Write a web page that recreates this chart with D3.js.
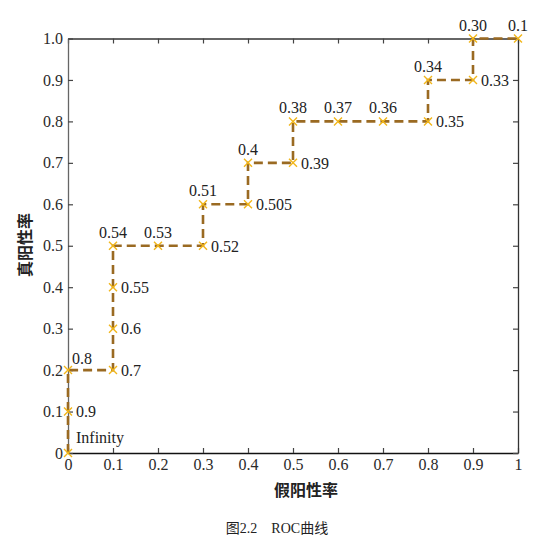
<!DOCTYPE html>
<html>
<head>
	<meta charset="utf-8">
	<title>ROC curve</title>
	<script src="https://cdn.jsdelivr.net/npm/d3@7/dist/d3.min.js"></script>
	<style>
		body { margin: 0; background: #fff; }
		.tick text { font-family: "Liberation Serif", "DejaVu Serif", serif; font-size: 16px; fill: #2a2a2a; }
		.pt-label { font-family: "Liberation Serif", "DejaVu Serif", serif; font-size: 16px; fill: #222; }
		.cjk { font-family: "Noto Sans CJK SC", sans-serif; }
		.caption { font-family: "Liberation Serif", "Noto Sans CJK SC", serif; }
	</style>
</head>
<body>
	<svg id="chart" width="548" height="546"></svg>

	<script>
		// false positive rate, true positive rate, threshold label
		var fpr = [0, 0, 0, 0.1, 0.1, 0.1, 0.1, 0.2, 0.3, 0.3, 0.4, 0.4, 0.5, 0.5, 0.6, 0.7, 0.8, 0.8, 0.9, 0.9, 1.0];
		var tpr = [0, 0.1, 0.2, 0.2, 0.3, 0.4, 0.5, 0.5, 0.5, 0.6, 0.6, 0.7, 0.7, 0.8, 0.8, 0.8, 0.8, 0.9, 0.9, 1.0, 1.0];
		var thresholds = ['Infinity', '0.9', '0.8', '0.7', '0.6', '0.55', '0.54', '0.53', '0.52', '0.51', '0.505',
			'0.4', '0.39', '0.38', '0.37', '0.36', '0.35', '0.34', '0.33', '0.30', '0.1'];

		var xTicks = [0, 0.1, 0.2, 0.3, 0.4, 0.5, 0.6, 0.7, 0.8, 0.9, 1];
		var xTickLabels = ['0', '0.1', '0.2', '0.3', '0.4', '0.5', '0.6', '0.7', '0.8', '0.9', '1'];
		var yTicks = [0, 0.1, 0.2, 0.3, 0.4, 0.5, 0.6, 0.7, 0.8, 0.9, 1];
		var yTickLabels = ['0', '0.1', '0.2', '0.3', '0.4', '0.5', '0.6', '0.7', '0.8', '0.9', '1.0'];

		var xTitle = '假阳性率', yTitle = '真阳性率', caption = '图2.2\u3000ROC曲线';

		var svg = d3.select('#chart');
		var plot = { left: 68, right: 518, top: 38.5, bottom: 453 };

		var x = d3.scaleLinear().domain([0, 1]).range([plot.left, plot.right]);
		var y = d3.scaleLinear().domain([0, 1]).range([plot.bottom, plot.top]);

		var data = fpr.map((d, i) => ({ x: d, y: tpr[i], label: thresholds[i] }));

		// axes, ticks pointing inward
		var fmtX = (d, i) => xTickLabels[i], fmtY = (d, i) => yTickLabels[i];

		var gB = svg.append('g').attr('transform', `translate(0,${plot.bottom})`)
			.call(d3.axisBottom(x).tickValues(xTicks).tickFormat(fmtX).tickSizeInner(-5).tickSizeOuter(0).tickPadding(6));
		var gT = svg.append('g').attr('transform', `translate(0,${plot.top})`)
			.call(d3.axisTop(x).tickValues(xTicks).tickFormat('').tickSizeInner(-5).tickSizeOuter(0));
		var gL = svg.append('g').attr('transform', `translate(${plot.left},0)`)
			.call(d3.axisLeft(y).tickValues(yTicks).tickFormat(fmtY).tickSizeInner(-5).tickSizeOuter(0).tickPadding(5));
		var gR = svg.append('g').attr('transform', `translate(${plot.right},0)`)
			.call(d3.axisRight(y).tickValues(yTicks).tickFormat('').tickSizeInner(-5).tickSizeOuter(0));

		[gB, gT, gL, gR].forEach(g => {
			g.select('.domain').attr('stroke', '#333').attr('stroke-width', 1.3);
			g.selectAll('.tick line').attr('stroke', '#444').attr('stroke-width', 1.2);
			g.selectAll('.tick text').attr('font-size', null).attr('font-family', null);
		});
		gB.select('.domain').attr('stroke', '#111');
		gL.select('.domain').attr('stroke', '#666');

		// step line
		var line = d3.line().x(d => x(d.x)).y(d => y(d.y));
		svg.append('path')
			.datum(data)
			.attr('fill', 'none')
			.attr('stroke', '#9a6a22')
			.attr('stroke-width', 2.6)
			.attr('stroke-dasharray', '9,5')
			.attr('d', line);

		// x markers
		var s = 4;
		var marks = svg.append('g').selectAll('g').data(data).enter().append('g')
			.attr('transform', d => `translate(${x(d.x)},${y(d.y)})`);
		marks.append('path')
			.attr('d', `M${-s},${-s}L${s},${s}M${-s},${s}L${s},${-s}`)
			.attr('stroke', '#f2b619')
			.attr('stroke-width', 1.4);

		// threshold labels: to the right before a vertical step, above otherwise
		marks.append('text')
			.attr('class', 'pt-label')
			.text(d => d.label)
			.each(function (d, i) {
				var t = d3.select(this);
				var next = data[i + 1];
				if (i === 0) {
					t.attr('x', 8).attr('y', -10);
				} else if (i === 2) {
					t.attr('x', 4).attr('y', -6);
				} else if (next && next.x === d.x) {
					t.attr('x', 8).attr('dy', '0.36em');
				} else {
					t.attr('text-anchor', 'middle').attr('y', -8);
				}
			});

		// titles
		svg.append('text').attr('class', 'cjk')
			.attr('x', 306).attr('y', 496)
			.attr('text-anchor', 'middle')
			.attr('font-size', 16).attr('font-weight', 'bold').attr('fill', '#222')
			.text(xTitle);
		svg.append('text').attr('class', 'cjk')
			.attr('transform', 'translate(31,245) rotate(-90)')
			.attr('text-anchor', 'middle')
			.attr('font-size', 16).attr('font-weight', 'bold').attr('fill', '#222')
			.text(yTitle);
		svg.append('text').attr('class', 'caption')
			.attr('x', 277).attr('y', 533)
			.attr('text-anchor', 'middle')
			.attr('font-size', 14).attr('fill', '#222')
			.text(caption);
	</script>
</body>
</html>
